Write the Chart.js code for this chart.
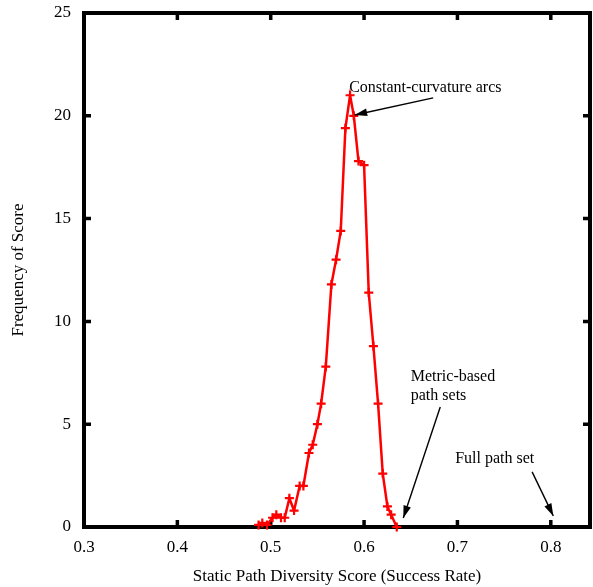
<!DOCTYPE html>
<html>
<head>
<meta charset="utf-8">
<script src="https://cdn.jsdelivr.net/npm/chart.js@4.4.1/dist/chart.umd.min.js"></script>
<style>
  body { margin: 0; background: #fff; }
  #wrap { width: 593px; height: 587px; }
</style>
</head>
<body>
<div id="wrap"><canvas id="freq"></canvas></div>
<script>
// success rate (x) and how often each score occurs (y)
const scores = [0.487, 0.491, 0.496, 0.502, 0.506, 0.511, 0.515, 0.520, 0.525, 0.531,
  0.535, 0.541, 0.545, 0.550, 0.554, 0.559, 0.565, 0.570, 0.575, 0.580,
  0.585, 0.589, 0.594, 0.600, 0.605, 0.610, 0.615, 0.620, 0.625, 0.629, 0.635]
const frequency = [0.1, 0.2, 0.1, 0.45, 0.6, 0.45, 0.45, 1.4, 0.8, 2.0,
  2.0, 3.6, 4.0, 5.0, 6.0, 7.8, 11.8, 13.0, 14.4, 19.4,
  21.0, 20.0, 17.8, 17.6, 11.4, 8.8, 6.0, 2.6, 1.0, 0.6, 0]

const xTicks = [0.3, 0.4, 0.5, 0.6, 0.7, 0.8]
const yTicks = [0, 5, 10, 15, 20, 25]

// text labels with arrows, in data coordinates
const notes = [
  { lines: ['Constant-curvature arcs'], at: [0.584, 21.35], from: [0.674, 20.87], to: [0.590, 20.04] },
  { lines: ['Metric-based', 'path sets'], at: [0.650, 7.3], from: [0.6816, 5.84], to: [0.642, 0.44] },
  { lines: ['Full path set'], at: [0.6976, 3.31], from: [0.780, 2.68], to: [0.8027, 0.54] },
]

const serif = 'Liberation Serif, Times New Roman, serif'

// black frame with inward tick marks on all four sides
const framePlugin = {
  id: 'frame',
  beforeDatasetsDraw(chart) {
    const { ctx, chartArea: a, scales } = chart
    ctx.save()
    ctx.strokeStyle = '#000'
    ctx.lineWidth = 4
    ctx.strokeRect(a.left, a.top, a.right - a.left, a.bottom - a.top)
    ctx.lineWidth = 3.5
    ctx.beginPath()
    xTicks.forEach(v => {
      const px = scales.x.getPixelForValue(v)
      if (px <= a.left + 2 || px >= a.right - 2) return
      ctx.moveTo(px, a.bottom); ctx.lineTo(px, a.bottom - 7)
      ctx.moveTo(px, a.top); ctx.lineTo(px, a.top + 7)
    })
    yTicks.forEach(v => {
      const py = scales.y.getPixelForValue(v)
      if (py <= a.top + 2 || py >= a.bottom - 2) return
      ctx.moveTo(a.left, py); ctx.lineTo(a.left + 7, py)
      ctx.moveTo(a.right, py); ctx.lineTo(a.right - 7, py)
    })
    ctx.stroke()

    // x tick labels
    ctx.fillStyle = '#000'
    ctx.font = '17px ' + serif
    ctx.textAlign = 'center'
    ctx.textBaseline = 'middle'
    xTicks.forEach(v => {
      ctx.fillText(String(v), scales.x.getPixelForValue(v), a.bottom + 21)
    })
    ctx.restore()
  },
  afterDraw(chart) {
    const { ctx, scales } = chart
    const X = v => scales.x.getPixelForValue(v)
    const Y = v => scales.y.getPixelForValue(v)
    ctx.save()
    ctx.fillStyle = '#000'
    ctx.strokeStyle = '#000'
    ctx.font = '16px ' + serif
    ctx.textBaseline = 'middle'
    notes.forEach(n => {
      n.lines.forEach((t, i) => ctx.fillText(t, X(n.at[0]), Y(n.at[1]) + i * 19))
      const x1 = X(n.from[0]), y1 = Y(n.from[1]), x2 = X(n.to[0]), y2 = Y(n.to[1])
      ctx.lineWidth = 1.4
      ctx.beginPath(); ctx.moveTo(x1, y1); ctx.lineTo(x2, y2); ctx.stroke()
      const ang = Math.atan2(y2 - y1, x2 - x1)
      const len = 13, half = 0.3
      ctx.beginPath()
      ctx.moveTo(x2, y2)
      ctx.lineTo(x2 - len * Math.cos(ang - half), y2 - len * Math.sin(ang - half))
      ctx.lineTo(x2 - len * Math.cos(ang + half), y2 - len * Math.sin(ang + half))
      ctx.closePath(); ctx.fill()
    })
    ctx.restore()
  }
}

const freqConfig = {
  type: 'line',
  data: {
    datasets: [
      {
        data: scores.map((s, i) => ({ x: s, y: frequency[i] })),
        borderColor: '#ff0000',
        backgroundColor: '#ff0000',
        borderWidth: 2.5,
        pointStyle: 'cross',
        pointRadius: 4.5,
        pointBorderWidth: 2.2,
        tension: 0,
        clip: 8,
      },
    ],
  },
  options: {
    responsive: true,
    maintainAspectRatio: false,
    animation: false,
    // autoPadding would reserve room for the point markers on every side
    layout: { autoPadding: false, padding: { top: 13, right: 3, left: 0, bottom: 0 } },
    plugins: { legend: { display: false }, tooltip: { enabled: false } },
    scales: {
      x: {
        type: 'linear',
        min: 0.3,
        max: 0.842,
        afterBuildTicks: s => { s.ticks = xTicks.map(v => ({ value: v })) },
        afterFit: s => { s.height = 60; s.paddingLeft = 0; s.paddingRight = 0 },
        grid: { display: false, drawTicks: false },
        border: { display: false },
        ticks: { display: false },
        title: { display: true, text: 'Static Path Diversity Score (Success Rate)', color: '#000',
          font: { family: serif, size: 17 }, padding: { top: 0, bottom: 0 } },
      },
      y: {
        min: 0,
        max: 25,
        afterBuildTicks: s => { s.ticks = yTicks.map(v => ({ value: v })) },
        afterFit: s => { s.width = 84; s.paddingTop = 0; s.paddingBottom = 0 },
        grid: { display: false, drawTicks: false },
        border: { display: false },
        ticks: { padding: 13, color: '#000', font: { family: serif, size: 17 } },
        title: { display: true, text: 'Frequency of Score', color: '#000',
          font: { family: serif, size: 17 }, padding: { top: 8, bottom: 0 } },
      },
    },
  },
  plugins: [framePlugin],
}

const freqCtx = document.getElementById('freq')
window.freqChart = new Chart(freqCtx, freqConfig)
</script>
</body>
</html>
